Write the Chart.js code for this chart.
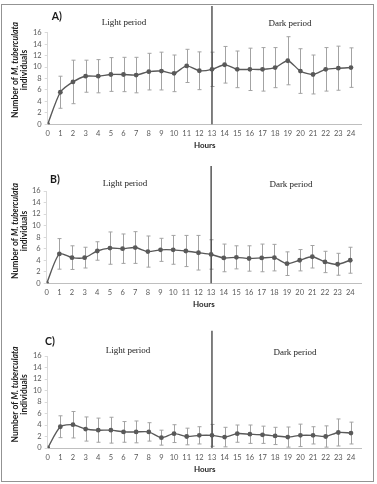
<!DOCTYPE html>
<html>
<head>
<meta charset="utf-8">
<script src="https://cdn.jsdelivr.net/npm/chart.js@4.4.1/dist/chart.umd.min.js"></script>
<style>
  html, body { margin: 0; padding: 0; background: #fff; }
  #frame { position: absolute; left: 1px; top: 4px; width: 371px; height: 476px; border: 1.5px solid #939393; }
  .panel { position: absolute; left: 3px; width: 371px; }
</style>
</head>
<body>
<div id="frame"></div>
<div class="panel" style="top:6px;height:150px"><canvas id="chartA"></canvas></div>
<div class="panel" style="top:160px;height:155px"><canvas id="chartB"></canvas></div>
<div class="panel" style="top:322px;height:158px"><canvas id="chartC"></canvas></div>
<script>
// Hours of observation (x categories)
const hours = [0, 1, 2, 3, 4, 5, 6, 7, 8, 9, 10, 11, 12, 13, 14, 15, 16, 17, 18, 19, 20, 21, 22, 23, 24];
const yTicks = [0, 2, 4, 6, 8, 10, 12, 14, 16];

// A) mean number of individuals and SD
const meanA = [0, 5.6, 7.4, 8.4, 8.4, 8.7, 8.7, 8.6, 9.2, 9.3, 8.9, 10.2, 9.35, 9.6, 10.4, 9.6, 9.6, 9.6, 9.9, 11.1, 9.3, 8.7, 9.6, 9.8, 9.9];
const sdA   = [0, 2.8, 3.8, 2.8, 2.9, 2.95, 3.0, 3.1, 3.2, 3.3, 3.2, 2.9, 3.3, 3.0, 3.2, 3.2, 3.7, 3.8, 3.5, 4.2, 3.9, 3.4, 3.8, 3.85, 3.45];

// B)
const meanB = [0, 5.1, 4.45, 4.45, 5.6, 6.1, 6.0, 6.2, 5.5, 5.8, 5.8, 5.6, 5.3, 5.0, 4.4, 4.5, 4.3, 4.4, 4.45, 3.4, 4.0, 4.6, 3.7, 3.3, 4.0];
const sdB   = [0, 2.65, 2.05, 1.8, 1.6, 2.8, 2.55, 2.75, 2.7, 2.0, 2.5, 2.7, 3.0, 2.55, 2.4, 2.0, 2.2, 2.4, 2.3, 2.05, 1.85, 1.95, 1.85, 1.9, 2.25];

// C)
const meanC = [0, 3.7, 4.05, 3.3, 3.1, 3.1, 2.8, 2.8, 2.8, 1.8, 2.5, 2.0, 2.2, 2.2, 1.9, 2.5, 2.4, 2.3, 2.1, 1.9, 2.2, 2.2, 2.0, 2.7, 2.6];
const sdC   = [0, 1.9, 2.3, 2.1, 2.1, 2.25, 1.8, 1.9, 1.6, 1.3, 1.55, 1.45, 1.5, 1.9, 1.7, 1.5, 1.6, 1.5, 1.5, 1.75, 1.95, 1.5, 1.85, 2.35, 1.9];

const dividerHour = 13;
const SANS = 'Lato, "Open Sans", sans-serif';
const SERIF = '"Liberation Serif", "DejaVu Serif", serif';

function makePanel(id, letter, mean, sd, g) {
  const canvas = document.getElementById(id);

  // error bars, light/dark divider and annotations
  const decor = {
    id: 'decor',
    beforeDatasetsDraw(chart) {
      const { ctx, chartArea, scales: { x, y } } = chart;
      ctx.save();
      ctx.strokeStyle = '#a3a3a3';
      ctx.lineWidth = 1;
      sd.forEach((s, i) => {
        if (!s) return;
        const px = Math.round(x.getPixelForValue(hours[i])) + 0.5;
        const top = y.getPixelForValue(mean[i] + s);
        const bot = y.getPixelForValue(mean[i] - s);
        ctx.beginPath();
        ctx.moveTo(px, top); ctx.lineTo(px, bot);
        ctx.moveTo(px - 2, top); ctx.lineTo(px + 2, top);
        ctx.moveTo(px - 2, bot); ctx.lineTo(px + 2, bot);
        ctx.stroke();
      });
      const dx = x.getPixelForValue(dividerHour);
      ctx.strokeStyle = '#3c3c3c';
      ctx.lineWidth = 1.3;
      ctx.beginPath();
      ctx.moveTo(dx, g.lineTop);
      ctx.lineTo(dx, chartArea.bottom);
      ctx.stroke();
      ctx.restore();
    },
    afterDraw(chart) {
      const { ctx, chartArea } = chart;
      ctx.save();
      ctx.fillStyle = '#1a1a1a';
      ctx.textBaseline = 'middle';

      ctx.font = 'bold 10.5px ' + SANS;
      ctx.textAlign = 'left';
      ctx.fillText(letter, g.letter[0], g.letter[1]);

      ctx.font = '9px ' + SERIF;
      ctx.textAlign = 'center';
      ctx.fillText('Light period', g.light[0], g.light[1]);
      ctx.fillText('Dark period', g.dark[0], g.dark[1]);

      ctx.font = 'bold 8px ' + SANS;
      ctx.fillStyle = '#262626';
      ctx.fillText('Hours', (chartArea.left + chartArea.right) / 2, chartArea.bottom + 21.5);

      // rotated y title, species name in italics
      ctx.fillStyle = '#1a1a1a';
      ctx.translate(g.ytitle[0], g.ytitle[1]);
      ctx.rotate(-Math.PI / 2);
      const f1 = 'bold 8.5px ' + SANS, f2 = 'italic bold 8.5px ' + SANS;
      ctx.font = f1; const w1 = ctx.measureText('Number of ').width;
      ctx.font = f2; const w2 = ctx.measureText('M. tuberculata').width;
      const sx = -(w1 + w2) / 2;
      ctx.textAlign = 'left';
      ctx.font = f1; ctx.fillText('Number of ', sx, 0);
      ctx.font = f2; ctx.fillText('M. tuberculata', sx + w1, 0);
      ctx.font = f1; ctx.textAlign = 'center';
      ctx.fillText('individuals', 0, 9.5);
      ctx.restore();
    },
  };

  return new Chart(canvas, {
    type: 'line',
    data: {
      datasets: [{
        data: hours.map((h, i) => ({ x: h, y: mean[i] })),
        borderColor: '#595959',
        backgroundColor: '#595959',
        borderWidth: 1.4,
        pointRadius: 2.4,
        pointBorderWidth: 0,
        pointBackgroundColor: '#595959',
        tension: 0.25,
        fill: false,
      }],
    },
    options: {
      responsive: true,
      maintainAspectRatio: false,
      animation: false,
      layout: { padding: { left: 0, top: g.top, right: 371 - g.right, bottom: 0 } },
      scales: {
        x: {
          type: 'linear',
          min: 0,
          max: 24.85,
          afterBuildTicks: s => { s.ticks = hours.map(h => ({ value: h })); },
          afterFit: s => { s.height = g.xh; },
          grid: { display: false, drawTicks: false },
          border: { display: true, color: '#bfbfbf', width: 1 },
          ticks: { color: '#595959', font: { family: SANS, size: 7.5 }, padding: 5, maxRotation: 0, autoSkip: false },
        },
        y: {
          min: 0,
          max: 16,
          afterBuildTicks: s => { s.ticks = yTicks.map(v => ({ value: v })); },
          afterFit: s => { s.width = g.left; },
          grid: { display: true, drawOnChartArea: false, tickLength: 3, color: '#d9d9d9' },
          border: { display: true, color: '#d9d9d9' },
          ticks: { color: '#595959', font: { family: SANS, size: 7.5 }, padding: 3, autoSkip: false },
        },
      },
      plugins: { legend: { display: false }, tooltip: { enabled: false } },
    },
    plugins: [decor],
  });
}

makePanel('chartA', 'A)', meanA, sdA, {
  left: 44.7, right: 358.7, top: 26.7, xh: 150 - 118.3, lineTop: 0,
  letter: [48.7, 10.7], light: [121, 17], dark: [287, 17.3], ytitle: [12, 64],
});
makePanel('chartB', 'B)', meanB, sdB, {
  left: 43.7, right: 358, top: 31, xh: 155 - 123.3, lineTop: 6,
  letter: [47, 20], light: [122, 24], dark: [288, 24.3], ytitle: [12, 71],
});
makePanel('chartC', 'C)', meanC, sdC, {
  left: 44.7, right: 358.7, top: 34, xh: 158 - 126, lineTop: 8.7,
  letter: [42, 19.7], light: [125, 29], dark: [292, 30.3], ytitle: [12, 72.5],
});
</script>
</body>
</html>
